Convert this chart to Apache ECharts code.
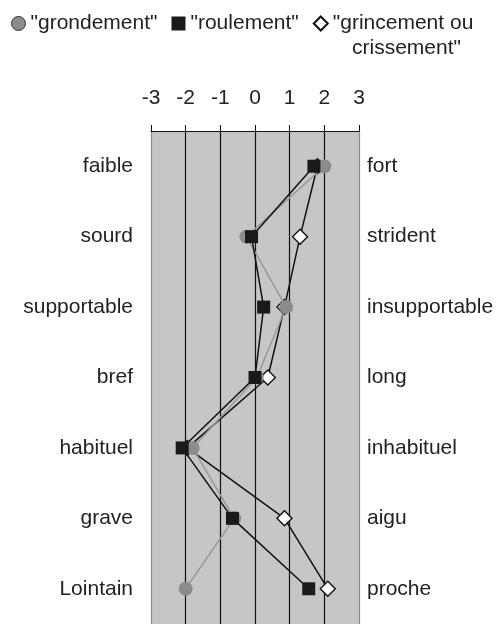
<!DOCTYPE html>
<html>
<head>
<meta charset="utf-8">
<script src="https://cdn.jsdelivr.net/npm/echarts@6/dist/echarts.min.js"></script>
<style>
  html, body { margin: 0; padding: 0; background: #fff; }
  #chart { width: 498px; height: 624px; }
</style>
</head>
<body>
<div id="chart"></div>
<script>
// pôles gauche / droite de chaque échelle
const leftLabels = ['faible', 'sourd', 'supportable', 'bref', 'habituel', 'grave', 'Lointain'];
const rightLabels = ['fort', 'strident', 'insupportable', 'long', 'inhabituel', 'aigu', 'proche'];
const xTicks = [-3, -2, -1, 0, 1, 2, 3];

// valeurs moyennes par son
const grondement = [2.0, -0.25, 0.9, 0.05, -1.8, -0.6, -2.0];
const roulement = [1.7, -0.1, 0.25, 0.0, -2.1, -0.65, 1.55];
const grincement = [1.8, 1.3, 0.85, 0.37, -1.95, 0.85, 2.1];

const seriesNames = ['"grondement"', '"roulement"', '"grincement ou crissement"'];

const font = 'Liberation Sans, Arial, sans-serif';
const textColor = '#222';
const fontSize = 21;

const chart = echarts.init(document.getElementById('chart'));

const option = {
  animation: false,
  textStyle: { fontFamily: font, color: textColor },
  legend: {
    left: 11,
    top: 13,
    padding: 0,
    itemWidth: 14,
    itemHeight: 14,
    itemGap: 14,
    textStyle: { fontSize: fontSize, color: textColor, fontFamily: font },
    formatter: (name) => name.startsWith('"grincement') ? '"grincement ou' : name,
    data: [
      { name: seriesNames[0], icon: 'circle', itemStyle: { borderColor: '#333', borderWidth: 1 } },
      { name: seriesNames[1], icon: 'rect' },
      { name: seriesNames[2], icon: 'diamond' }
    ]
  },
  graphic: [
    {
      type: 'text',
      left: 352,
      top: 38,
      style: { text: 'crissement"', fontSize: fontSize, fontFamily: font, fill: textColor }
    }
  ],
  grid: {
    left: 151,
    right: 139,
    top: 131,
    bottom: 0,
    show: true,
    backgroundColor: '#c6c6c6',
    borderWidth: 0
  },
  xAxis: {
    type: 'value',
    position: 'top',
    min: xTicks[0],
    max: xTicks[xTicks.length - 1],
    interval: 1,
    axisLine: { show: true, lineStyle: { color: '#111', width: 1 } },
    axisTick: { show: true, length: 6, lineStyle: { color: '#111', width: 1 } },
    axisLabel: {
      fontSize: fontSize,
      color: textColor,
      margin: 22,
      formatter: (v) => String(v)
    },
    splitLine: {
      show: true,
      lineStyle: { color: ['#8a8a8a', '#111', '#111', '#111', '#111', '#111', '#8a8a8a'], width: 1.2 }
    }
  },
  yAxis: [
    {
      type: 'category',
      inverse: true,
      position: 'left',
      data: leftLabels,
      axisLine: { show: false },
      axisTick: { show: false },
      axisLabel: { fontSize: fontSize, color: textColor, margin: 18 }
    },
    {
      type: 'category',
      inverse: true,
      position: 'right',
      data: rightLabels,
      axisLine: { show: false },
      axisTick: { show: false },
      axisLabel: { fontSize: fontSize, color: textColor, margin: 8 }
    }
  ],
  series: [
    {
      name: seriesNames[2],
      type: 'line',
      yAxisIndex: 0,
      data: grincement,
      symbol: 'diamond',
      symbolSize: 15,
      z: 2,
      lineStyle: { color: '#111', width: 1.5 },
      itemStyle: { color: '#fff', borderColor: '#111', borderWidth: 1.4 }
    },
    {
      name: seriesNames[0],
      type: 'line',
      yAxisIndex: 0,
      data: grondement,
      symbol: 'circle',
      symbolSize: 14,
      z: 3,
      lineStyle: { color: '#999', width: 1.5 },
      itemStyle: { color: '#8c8c8c', borderWidth: 0 }
    },
    {
      name: seriesNames[1],
      type: 'line',
      yAxisIndex: 0,
      data: roulement,
      symbol: 'rect',
      symbolSize: 13,
      z: 4,
      lineStyle: { color: '#111', width: 1.5 },
      itemStyle: { color: '#1a1a1a', borderWidth: 0 }
    }
  ]
};

chart.setOption(option);
</script>
</body>
</html>
